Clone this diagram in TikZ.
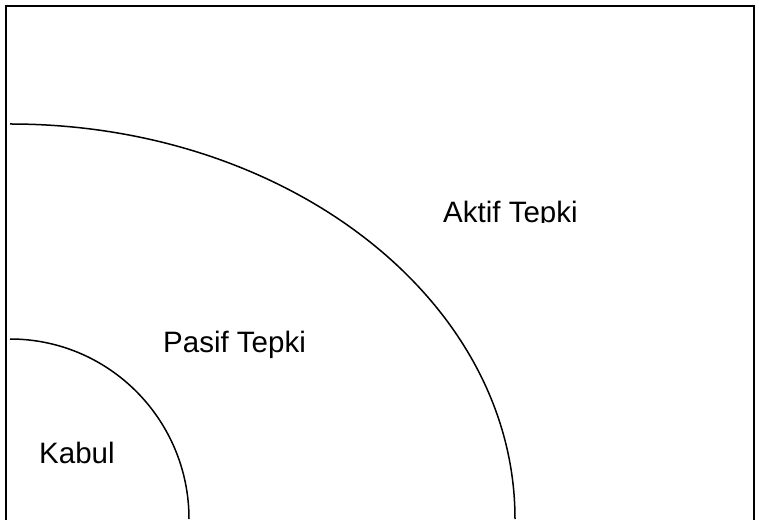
\documentclass[tikz,border=0pt]{standalone}
\usepackage{fontspec}
\setmainfont{Liberation Sans}
\usepackage{tikz}
\usetikzlibrary{positioning}

\begin{document}
\begin{tikzpicture}[x=1pt,y=1pt,
  lbl/.style={anchor=base west,inner sep=0pt,font=\fontsize{29.5}{35}\selectfont},
  zone/.style={line width=1.5pt}]
  \useasboundingbox (0,0) rectangle (759,519);
  % frame, open at the bottom
  \draw[line width=2pt] (6,-5) -- (6,513) -- (754,513) -- (754,-5);
  % response zones
  \draw[zone] (10,395) arc[start angle=90,end angle=0,x radius=505,y radius=395];
  \draw[zone] (10,180) arc[start angle=90,end angle=0,x radius=179,y radius=180];
  \node[lbl] (kabul) at (39,56) {Kabul};
  \node[lbl] (pasif) at (163,166) {Pasif Tepki};
  \begin{scope}
    \clip (400,296) rectangle (660,340);
    \node[lbl] (aktif) at (443,296) {Aktif Tepki};
  \end{scope}
\end{tikzpicture}
\end{document}
